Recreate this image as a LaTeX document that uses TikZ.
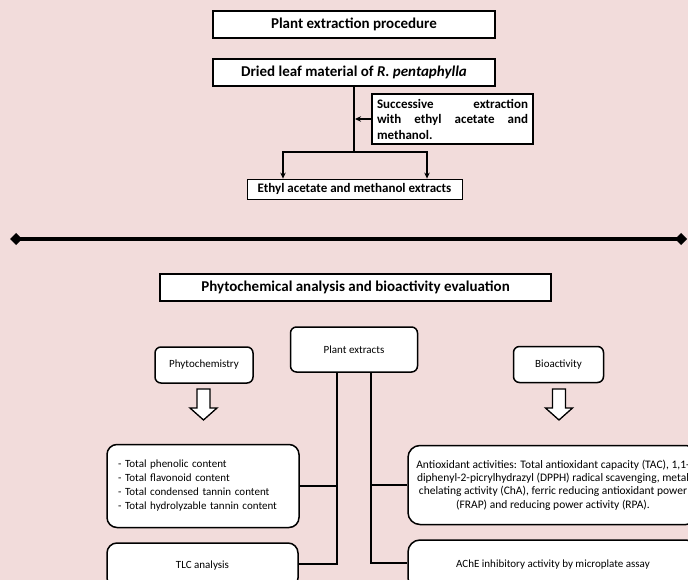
\documentclass[tikz,border=0pt]{standalone}
\usepackage{fontspec}
\setmainfont{Carlito}
\usetikzlibrary{arrows.meta,calc}
\definecolor{bg}{HTML}{F2DCDB}
\tikzset{
 titlebox/.style={draw, line width=1.8pt, fill=white, font=\fontsize{15}{17}\selectfont\bfseries, inner sep=0pt},
 softbox/.style={draw, line width=1.5pt, fill=white, rounded corners=6pt, font=\fontsize{11}{14}\selectfont, inner sep=0pt},
 conn/.style={line width=2pt},
 arr/.style={line width=2pt, -{Stealth[length=6pt,width=5.5pt]}},
 blockarrow/.style={draw, line width=1.3pt, fill=white, line join=miter}
}
\begin{document}
\begin{tikzpicture}[x=1pt,y=-1pt]
\useasboundingbox (0,0) rectangle (688,580);
\fill[bg] (0,0) rectangle (688,580);
\clip (0,0) rectangle (688,580);

% --- upper part
\node[titlebox, minimum width=282pt, minimum height=27pt] (t1) at (354,24.5) {Plant extraction procedure};
\node[titlebox, minimum width=282pt, minimum height=27pt] (dried) at (354,72.5) {Dried leaf material of \textit{R. pentaphylla}};
\node[titlebox, font=\fontsize{13}{15.5}\selectfont\bfseries, minimum width=161pt, minimum height=50pt, text width=151pt, align=justify] (succ) at (452.5,119) {Successive extraction\linebreak with ethyl acetate and\linebreak methanol.};
\node[draw, line width=0.8pt, fill=white, font=\fontsize{13}{15}\selectfont\bfseries, minimum width=215pt, minimum height=20pt, inner sep=0pt] (ext) at (354.5,189) {Ethyl acetate and methanol extracts};

\coordinate (split) at (354,152);
\coordinate (bl) at (283,152);
\coordinate (br) at (427,152);
\draw[conn] (dried.south) -- (split);
\draw[conn, line cap=rect] (bl) -- (br);
\draw[arr] (bl) -- (bl |- ext.north);
\draw[arr] (br) -- (br |- ext.north);
\draw[arr, shorten >=1pt] (succ.west) -- (succ.west -| split);

% --- separator
\coordinate (sl) at (10,239);
\coordinate (sr) at (687,239);
\draw[line width=3.5pt, {Diamond[length=12pt,width=12pt]}-{Diamond[length=12pt,width=12pt]}] (sl) -- (sr);

% --- lower part
\node[titlebox, minimum width=391pt, minimum height=27pt] (pab) at (355.5,287.5) {Phytochemical analysis and bioactivity evaluation};
\node[softbox, minimum width=127pt, minimum height=45pt] (pe) at (354,349.5) {Plant extracts};
\node[softbox, minimum width=98pt, minimum height=36pt] (phy) at (204,365) {Phytochemistry};
\node[softbox, minimum width=90pt, minimum height=36pt] (bio) at (558.5,364.5) {Bioactivity};

\coordinate (pa) at (203.5,389);
\coordinate (ba) at (559,389);
\draw[blockarrow] (pa) ++(-6.5,0) -- ++(0,19) -- ++(-7,0) -- ++(13.5,12) -- ++(13.5,-12) -- ++(-7,0) -- ++(0,-19) -- cycle;
\draw[blockarrow] (ba) ++(-6.5,0) -- ++(0,19) -- ++(-7,0) -- ++(13.5,12) -- ++(13.5,-12) -- ++(-7,0) -- ++(0,-19) -- cycle;

\node[softbox, rounded corners=10pt, minimum width=192pt, minimum height=83pt, text width=170pt, align=left] (tp) at (203,486) {- Total phenolic content\\- Total flavonoid content\\- Total condensed tannin content\\- Total hydrolyzable tannin content};
\node[softbox, rounded corners=10pt, minimum width=191pt, minimum height=45pt] (tlc) at (202.5,565.5) {TLC analysis};
\node[softbox, rounded corners=12pt, minimum width=290pt, minimum height=79pt, align=center, font=\fontsize{11.5}{13.4}\selectfont] (ao) at (553,485) {Antioxidant activities: Total antioxidant capacity (TAC), 1,1-\\diphenyl-2-picrylhydrazyl (DPPH) radical scavenging, metal\\chelating activity (ChA), ferric reducing antioxidant power\\(FRAP) and reducing power activity (RPA).};
\node[softbox, rounded corners=12pt, minimum width=290pt, minimum height=50pt] (ache) at (553,565) {AChE inhibitory activity by microplate assay};

\coordinate (L) at (337,564);
\coordinate (R) at (371,563);
\draw[conn] (L |- pe.south) -- (L) -- (tlc.east |- L);
\draw[conn] (L |- tp.east) -- (tp.east);
\draw[conn] (R |- pe.south) -- (R) -- (ache.west |- R);
\draw[conn] (R |- ao.west) -- (ao.west);
\end{tikzpicture}
\end{document}
